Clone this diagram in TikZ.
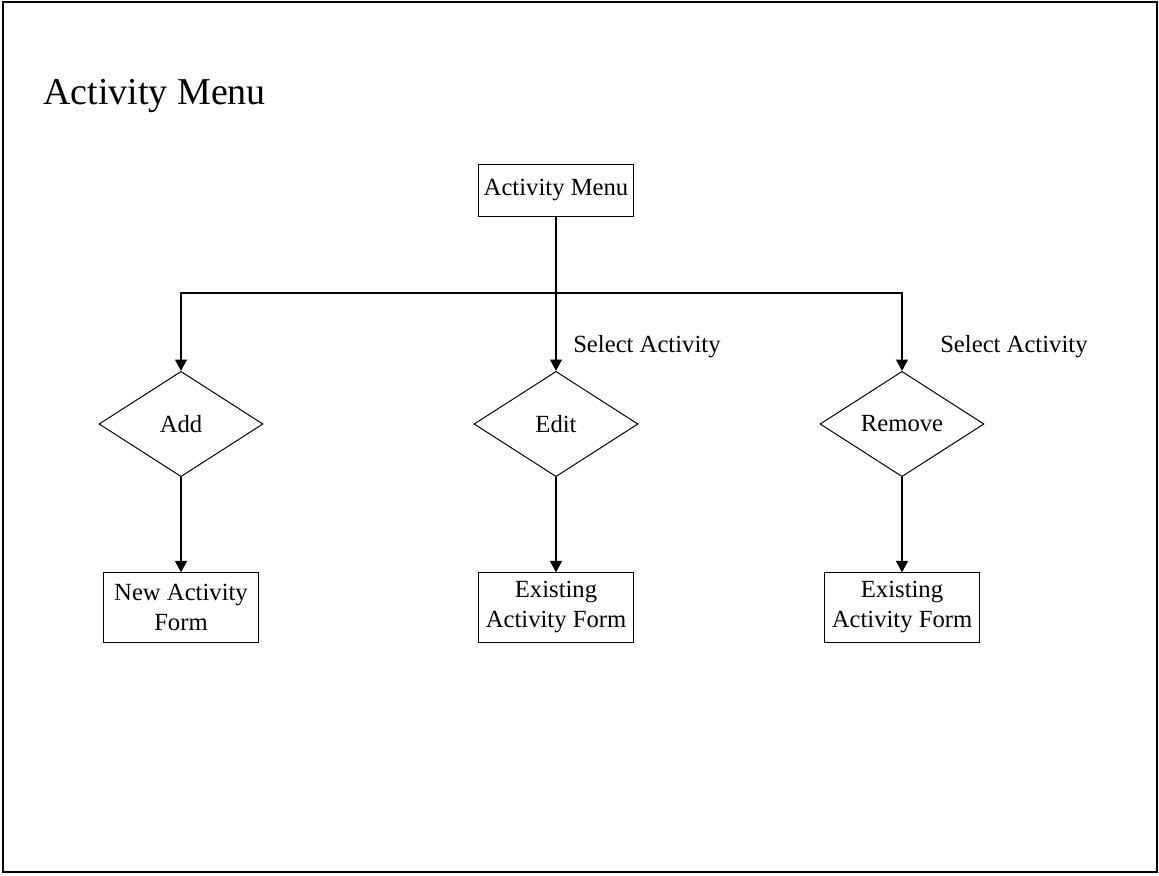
\documentclass[tikz,border=0pt]{standalone}
\usepackage{fontspec}
\setmainfont{Liberation Serif}
\usepackage{tikz}
\usetikzlibrary{positioning, arrows.meta, shapes.geometric}
\tikzstyle{screen} = [rectangle, minimum width=116pt, minimum height=39pt, inner sep=1pt, text centered, draw=black, line width=0.75pt, font=\fontsize{18.5}{22.5}\selectfont]
\tikzstyle{form} = [rectangle, minimum width=116pt, minimum height=52pt, inner sep=1pt, align=center, draw=black, line width=0.75pt, font=\fontsize{18.5}{22.5}\selectfont]
\tikzstyle{choice} = [diamond, minimum width=123pt, minimum height=79pt, inner sep=0pt, text centered, draw=black, line width=0.75pt, font=\fontsize{18.5}{22.5}\selectfont]
\tikzstyle{arrow} = [line width=0.9pt, -{Triangle[length=8.5pt, width=9pt]}]
\tikzstyle{note} = [anchor=west, inner sep=0pt, font=\fontsize{18.5}{22.5}\selectfont]

\begin{document}
\begin{tikzpicture}[x=0.75pt, y=-0.75pt, node distance=137.6pt]
        \useasboundingbox (0,0) rectangle (1159,875);
        \draw [line width=2.2pt] (3,2) rectangle (1157,872);
        \node (title) [anchor=base west, inner sep=0pt, font=\fontsize{28.5}{34}\selectfont] at (43,104) {Activity Menu};

        \node (menu) [screen] at (556,190) {Activity Menu};
        \coordinate (bus) at (556,293);
        \node (add) [choice] at (181,424) {Add};
        \node (edit) [choice] at (556,424) {Edit};
        \node (remove) [choice] at (902,424) {Remove};
        \node (newform) [form, below of=add] {New Activity\\Form};
        \node (editform) [form, below of=edit] {Existing\\Activity Form};
        \node (removeform) [form, below of=remove] {Existing\\Activity Form};
        \node (editselect) [note] at (573,347) {Select Activity};
        \node (removeselect) [note] at (940,347) {Select Activity};

        \draw [arrow] (menu) -- (edit);
        \draw [arrow] (bus) -| (add);
        \draw [arrow] (bus) -| (remove);
        \draw [arrow] (add) -- (newform);
        \draw [arrow] (edit) -- (editform);
        \draw [arrow] (remove) -- (removeform);

        \end{tikzpicture}
\end{document}
